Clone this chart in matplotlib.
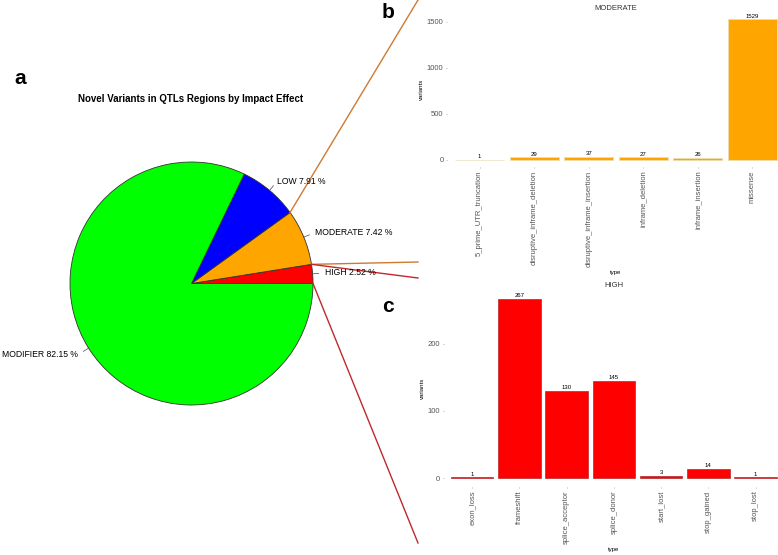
import numpy as np
import matplotlib
matplotlib.use("Agg")
import matplotlib.pyplot as plt

plt.rcParams["font.family"] = ["Liberation Sans", "DejaVu Sans"]

# Pie: share of novel variants by impact (R pie order, counter-clockwise from 3 o'clock)
impact_names = ["HIGH", "MODERATE", "LOW", "MODIFIER"]
impact_pct = [2.52, 7.42, 7.91, 82.15]
impact_colors = ["#FF0000", "#FFA500", "#0000FF", "#00FF00"]

# Panel b: MODERATE effects
moderate_types = ["5_prime_UTR_truncation", "disruptive_inframe_deletion",
                  "disruptive_inframe_insertion", "inframe_deletion",
                  "inframe_insertion", "missense"]
moderate_counts = [1, 29, 37, 27, 26, 1529]

# Panel c: HIGH effects
high_types = ["exon_loss", "frameshift", "splice_acceptor", "splice_donor",
              "start_lost", "stop_gained", "stop_lost"]
high_counts = [1, 267, 130, 145, 3, 14, 1]

W, H = 778, 555
fig = plt.figure(figsize=(W / 100, H / 100), dpi=100)

# ---- panel a: pie, drawn in a full-figure axes using pixel units ----
ax = fig.add_axes([0, 0, 1, 1])
cx, cy, R = 191.5, H - 283.5, 121.5
ax.pie(impact_pct, colors=impact_colors, startangle=0, counterclock=True,
       center=(cx, cy), radius=R,
       wedgeprops=dict(edgecolor="#333333", linewidth=0.6))
ax.set_xlim(0, W)
ax.set_ylim(0, H)
ax.set_aspect("equal")
ax.axis("off")

bounds = np.concatenate([[0], np.cumsum(impact_pct)]) / 100 * 2 * np.pi
mids = (bounds[:-1] + bounds[1:]) / 2
for name, pct, a in zip(impact_names, impact_pct, mids):
    c, s = np.cos(a), np.sin(a)
    ax.plot([cx + R * c, cx + 1.05 * R * c], [cy + R * s, cy + 1.05 * R * s],
            color="#444444", lw=0.5)
    ax.text(cx + 1.1 * R * c, cy + 1.1 * R * s, f"{name} {pct:.2f} %",
            ha="left" if c > 0 else "right", va="center", fontsize=6.2)

# connector lines from the pie to the zoom panels
def edge(angle):
    return cx + R * np.cos(angle), cy + R * np.sin(angle)

x_end = 418
for ang, y_end, col in [(bounds[2], H - 0, "#cd7a32"),
                        (bounds[1], H - 262, "#cd7a32"),
                        (bounds[1], H - 278, "#c0282d"),
                        (bounds[0], H - 543, "#c0282d")]:
    x0, y0 = edge(ang)
    ax.plot([x0, x_end], [y0, y_end], color=col, lw=1.0, clip_on=False)

fig.text(191 / W, 1 - 99 / H, "Novel Variants in QTLs Regions by Impact Effect",
         ha="center", va="center", fontsize=7, fontweight="bold")
fig.text(20 / W, 1 - 78 / H, "a", ha="center", va="center", fontsize=15, fontweight="bold")
fig.text(388 / W, 1 - 13 / H, "b", ha="center", va="center", fontsize=15, fontweight="bold")
fig.text(388 / W, 1 - 307 / H, "c", ha="center", va="center", fontsize=15, fontweight="bold")


def bar_panel(rect, types, counts, fill, edgec, title, yticks):
    bx = fig.add_axes(rect)
    x = np.arange(1, len(types) + 1)
    bars = bx.bar(x, counts, width=0.9, color=fill, edgecolor=edgec, linewidth=0.5)
    bx.bar_label(bars, labels=[str(v) for v in counts], fontsize=4.3, padding=0.5)
    top = max(counts)
    bx.set_xlim(0.4, len(types) + 0.6)
    bx.set_ylim(-0.05 * top, 1.05 * top)
    bx.set_xticks(x)
    bx.set_xticklabels(types, rotation=90, fontsize=5.5, color="#555555")
    bx.set_yticks(yticks)
    bx.set_yticklabels([str(t) for t in yticks], fontsize=5.5, color="#555555")
    bx.tick_params(length=1.0, width=0.5, color="#999999", pad=1.5)
    for sp in bx.spines.values():
        sp.set_visible(False)
    bx.set_title(title, fontsize=5.5, color="#333333", pad=2)
    bx.set_xlabel("type", fontsize=4.3, labelpad=2.5)
    bx.set_ylabel("variants", fontsize=4.3, labelpad=2)
    bx.patch.set_alpha(0)
    return bx


bar_panel([447 / W, (H - 167) / H, 338 / W, 154.7 / H], moderate_types, moderate_counts,
          "#FFA500", "#e9e0b8", "MODERATE", [0, 500, 1000, 1500])
bar_panel([443.6 / W, (H - 487) / H, 340.4 / W, 197 / H], high_types, high_counts,
          "#FF0000", "#b5282d", "HIGH", [0, 100, 200])

fig.savefig("out.png", dpi=100)
